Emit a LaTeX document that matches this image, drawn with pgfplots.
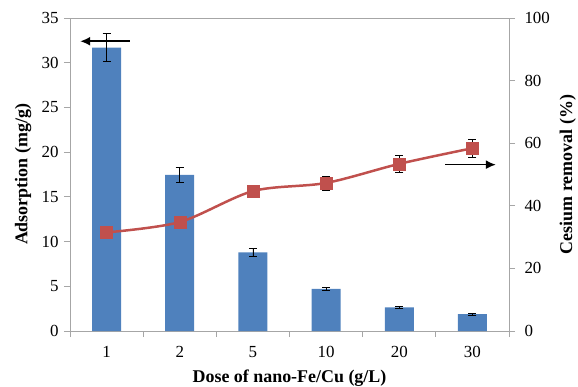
\documentclass[border=0pt]{standalone}
\usepackage{pgfplots}
\pgfplotsset{compat=1.18}
\usepackage{pgfplotstable}
\usepackage{fontspec}
\setmainfont{Liberation Serif}
\usetikzlibrary{arrows.meta}
\definecolor{barblue}{HTML}{4F81BD}
\definecolor{linered}{HTML}{C0504D}
\definecolor{axgray}{HTML}{A6A6A6}

\pgfplotstableread{
x y err
1 31.7 1.55
2 17.45 0.85
3 8.8 0.4
4 4.7 0.2
5 2.65 0.1
6 1.9 0.1
}\adsdata

\pgfplotstableread{
x y err
1 31.5 1.0
2 34.8 1.0
3 44.7 1.5
4 47.3 2.2
5 53.4 2.6
6 58.4 2.8
}\remdata

\begin{document}
\begin{tikzpicture}
\pgfplotsset{
 common/.style={
  scale only axis, width=439bp, height=313bp,
  xmin=0.5, xmax=6.5,
  /pgf/number format/assume math mode=true,
  tick label style={font=\fontsize{17}{20}\selectfont, text=black},
  label style={font=\fontsize{18}{21}\selectfont\bfseries},
  axis line style={axgray, line width=0.8pt},
  tick style={axgray, line width=0.8pt},
  tick align=outside,
  major tick length=6bp,
 }
}
\begin{axis}[common,
  tick pos=left,
  ymin=0, ymax=35, ytick={0,5,...,35},
  xtick={0.5,1.5,...,6.5},
  xticklabels={1,2,5,10,20,30},
  x tick label as interval,
  xticklabel style={yshift=-6bp},
  yticklabel style={xshift=-2bp},
  ylabel={Adsorption (mg/g)},
  xlabel={Dose of nano-Fe/Cu (g/L)},
  ylabel style={at={(axis description cs:-0.107,0.5)}, anchor=center},
  xlabel style={at={(axis description cs:0.5,-0.150)}, anchor=center},
]
\addplot[ybar, bar width=29bp, fill=barblue, draw=none,
  error bars/.cd, y dir=both, y explicit,
  error bar style={black, line width=0.6pt},
  error mark options={rotate=90, mark size=4bp, black, line width=0.6pt}]
  table[x=x, y=y, y error=err] {\adsdata};
\draw[-{Latex[length=10bp,width=9bp]}, line width=1.6pt, black] (axis cs:1.32,32.4) -- (axis cs:0.64,32.4);
\draw[-{Latex[length=10bp,width=9bp]}, line width=1.6pt, black] (axis cs:5.63,18.6) -- (axis cs:6.32,18.6);
\end{axis}
\begin{axis}[common,
  axis y line*=right, axis x line=none,
  ymin=0, ymax=100, ytick={0,20,...,100},
  yticklabel style={xshift=6bp},
  ylabel={Cesium removal (\%)},
  ylabel style={at={(axis description cs:1.134,0.5)}, anchor=center},
]
\addplot[linered, line width=2.5pt, smooth, mark=square*,
  mark options={fill=linered, draw=linered, mark size=6bp, line width=0.5pt},
  error bars/.cd, y dir=both, y explicit,
  error bar style={black, line width=0.6pt},
  error mark options={rotate=90, mark size=4bp, black, line width=0.6pt}]
  table[x=x, y=y, y error=err] {\remdata};
\end{axis}
\pgfresetboundingbox
\path[use as bounding box] (-70bp,-56bp) rectangle (508bp,331bp);
\end{tikzpicture}
\end{document}
